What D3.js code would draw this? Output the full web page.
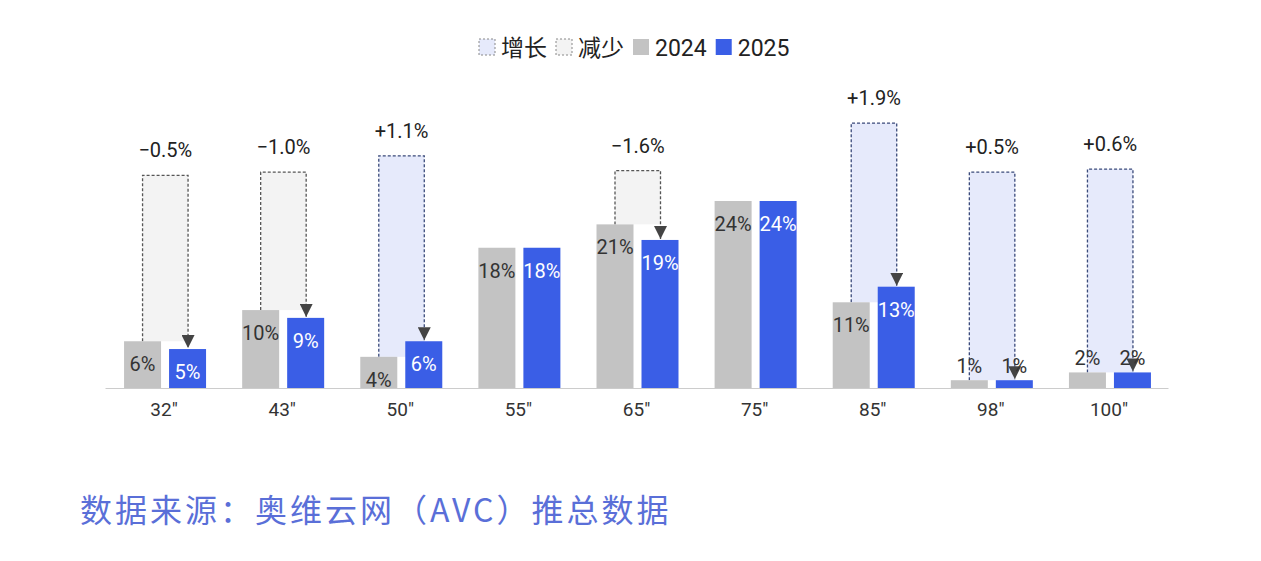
<!DOCTYPE html>
<html>
<head>
  <meta charset="utf-8">
  <script src="https://d3js.org/d3.v7.min.js"></script>
  <style>
    body { margin: 0; background: #fff; }
    text { font-family: Roboto, "Noto Sans CJK SC", sans-serif; }
  </style>
</head>
<body>
  <script>
    const categories = ['32"', '43"', '50"', '55"', '65"', '75"', '85"', '98"', '100"'];
    const values2024 = [6, 10, 4, 18, 21, 24, 11, 1, 2];
    const values2025 = [5, 9, 6, 18, 19, 24, 13, 1, 2];
    const changes = [-0.5, -1.0, 1.1, null, -1.6, null, 1.9, 0.5, 0.6];
    // top of the dashed change box, in the same % units as the bars
    const boxTops = [27.3, 27.7, 29.8, null, 27.9, null, 34, 27.7, 28.1];

    const width = 1261, height = 561;
    const base = 388;

    const svg = d3.select("body").append("svg")
      .attr("width", width).attr("height", height);

    const x = d3.scaleBand().domain(categories).range([105, 1168]);
    const y = d3.scaleLinear().domain([0, 24]).range([base, 201]);
    const barW = 37, gap = 8;
    const x24 = c => x(c) + x.bandwidth() / 2 - gap / 2 - barW + 1;
    const x25 = c => x(c) + x.bandwidth() / 2 + gap / 2 + 1;

    svg.append("defs").append("marker")
      .attr("id", "arr").attr("viewBox", "0 0 10 10")
      .attr("refX", 5).attr("refY", 10)
      .attr("markerWidth", 13).attr("markerHeight", 13)
      .attr("markerUnits", "userSpaceOnUse").attr("orient", "0")
      .append("path").attr("d", "M0,0L10,0L5,10Z").attr("fill", "#444");

    // change boxes
    categories.forEach((c, i) => {
      if (changes[i] === null) return;
      const l = x24(c) + barW / 2, r = x25(c) + barW - 18;
      const t = y(boxTops[i]);
      const up = changes[i] > 0;
      svg.append("rect")
        .attr("x", l).attr("y", t).attr("width", r - l).attr("height", y(values2024[i]) - t)
        .attr("fill", up ? "#e6eafb" : "#f3f3f3");
      svg.append("path")
        .attr("d", `M${l},${y(values2024[i])}V${t}H${r}V${y(values2025[i]) - 1}`)
        .attr("fill", "none")
        .attr("stroke", up ? "#3a4a7a" : "#555")
        .attr("stroke-width", 1.3)
        .attr("stroke-dasharray", "3,2")
        .attr("marker-end", "url(#arr)");
      svg.append("text")
        .attr("x", (l + r) / 2).attr("y", t - 18)
        .attr("text-anchor", "middle").attr("font-size", 20).attr("fill", "#222")
        .text((up ? "+" : "\u2212") + Math.abs(changes[i]).toFixed(1) + "%");
    });

    // bars
    svg.selectAll(".b24").data(categories).join("rect")
      .attr("x", d => x24(d)).attr("y", (d, i) => y(values2024[i]))
      .attr("width", barW).attr("height", (d, i) => base - y(values2024[i]))
      .attr("fill", "#c3c3c3");
    svg.selectAll(".b25").data(categories).join("rect")
      .attr("x", d => x25(d)).attr("y", (d, i) => y(values2025[i]))
      .attr("width", barW).attr("height", (d, i) => base - y(values2025[i]))
      .attr("fill", "#3a5ee6");

    // bar labels
    svg.selectAll(".l24").data(categories).join("text")
      .attr("x", d => x24(d) + barW / 2)
      .attr("y", (d, i) => values2024[i] < 3 ? y(values2024[i]) - 7 : y(values2024[i]) + 30)
      .attr("text-anchor", "middle").attr("font-size", 20).attr("fill", "#333")
      .text((d, i) => values2024[i] + "%");
    svg.selectAll(".l25").data(categories).join("text")
      .attr("x", d => x25(d) + barW / 2)
      .attr("y", (d, i) => values2025[i] < 3 ? y(values2025[i]) - 7 : y(values2025[i]) + 30)
      .attr("text-anchor", "middle").attr("font-size", 20)
      .attr("fill", (d, i) => values2025[i] < 3 ? "#333" : "#fff")
      .text((d, i) => values2025[i] + "%");

    // axis
    const ax = svg.append("g").attr("transform", `translate(0,${base})`)
      .call(d3.axisBottom(x).tickSize(0).tickPadding(15));
    ax.select(".domain").attr("stroke", "#ccc");
    ax.selectAll("text").attr("font-size", 19).attr("fill", "#333")
      .style("font-family", "Roboto, sans-serif");

    // legend
    const legend = [
      { label: "增长", fill: "#e6eafb", dash: true },
      { label: "减少", fill: "#f3f3f3", dash: true },
      { label: "2024", fill: "#c3c3c3", dash: false },
      { label: "2025", fill: "#3a5ee6", dash: false }
    ];
    const lg = svg.append("g").attr("transform", "translate(479,47)");
    let lx = 0;
    legend.forEach(d => {
      lg.append("rect").attr("x", lx).attr("y", -8).attr("width", 16).attr("height", 16)
        .attr("fill", d.fill)
        .attr("stroke", d.dash ? "#888" : "none").attr("stroke-dasharray", "2,2");
      const t = lg.append("text").attr("x", lx + 22).attr("y", 9)
        .attr("font-size", 23).attr("fill", "#222").text(d.label);
      lx += 22 + t.node().getComputedTextLength() + 9;
    });

    svg.append("text").attr("x", 80).attr("y", 522)
      .attr("font-size", 32).attr("fill", "#5a6fd8").attr("letter-spacing", 3)
      .style("font-family", '"Noto Sans CJK SC", sans-serif')
      .text("数据来源：奥维云网（AVC）推总数据");
  </script>
</body>
</html>
